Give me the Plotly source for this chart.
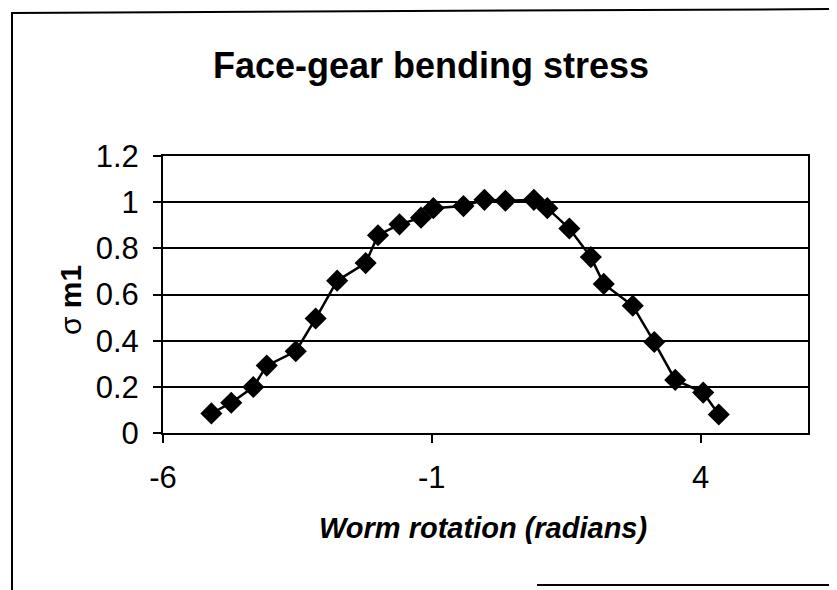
import plotly.graph_objects as go

worm_rotation = [-5.10, -4.73, -4.32, -4.07, -3.53, -3.16, -2.76, -2.23, -2.00, -1.60,
                 -1.20, -0.97, -0.41, -0.02, 0.37, 0.90, 1.15, 1.56, 1.96, 2.20,
                 2.74, 3.14, 3.53, 4.05, 4.34]
sigma_m1 = [0.085, 0.131, 0.199, 0.292, 0.354, 0.496, 0.660, 0.736, 0.857, 0.904,
            0.933, 0.974, 0.983, 1.010, 1.006, 1.010, 0.974, 0.886, 0.762, 0.646,
            0.551, 0.394, 0.230, 0.175, 0.080]

x_tick_vals = [-6, -1, 4]
x_tick_text = ["-6", "-1", "4"]

title_text = "Face-gear bending stress"
x_title = "Worm rotation (radians)"

FONT = "Liberation Sans, Arial, sans-serif"

# page is shown with the browser's default 8px body margin
O = 8
W, H = 837 - O, 590 - O
L, R, T, B = 163 - O, 808 - O, 156 - O, 433 - O  # plot area in figure px

def px_x(p):
    return (p - O - L) / (R - L)

def px_y(p):
    return (B - (p - O)) / (B - T)

fig = go.Figure()
fig.add_trace(go.Scatter(
    x=worm_rotation, y=sigma_m1, mode="lines+markers",
    line=dict(color="black", width=2.5),
    marker=dict(symbol="diamond", size=17, color="black"),
    showlegend=False,
))

fig.update_layout(
    width=W, height=H,
    margin=dict(l=L, r=W - R, t=T, b=H - B),
    paper_bgcolor="white", plot_bgcolor="white",
    font=dict(family=FONT, color="black"),
    title=dict(text="<b>" + title_text + "</b>", x=px_x(431), xref="paper",
               y=1 - (65 - O) / H, yref="container", xanchor="center", yanchor="middle",
               font=dict(size=36, family=FONT, color="black")),
    xaxis=dict(range=[-6, 6], tickvals=x_tick_vals, ticktext=x_tick_text,
               showgrid=False, zeroline=False,
               showline=True, linecolor="black", linewidth=2, mirror=True,
               ticks="outside", ticklen=8, tickwidth=1.5, tickcolor="black",
               ticklabelstandoff=8,
               tickfont=dict(size=31, family=FONT, color="black")),
    yaxis=dict(range=[0, 1.2], dtick=0.2, showgrid=True, gridcolor="black", gridwidth=1.5,
               zeroline=False, showline=True, linecolor="black", linewidth=2, mirror=True,
               ticks="outside", ticklen=8, tickwidth=1.5, tickcolor="black",
               ticklabelstandoff=8,
               tickfont=dict(size=31, family=FONT, color="black")),
    annotations=[
        dict(text="<b><i>" + x_title + "</i></b>", xref="paper", yref="paper",
             x=px_x(483), y=px_y(528), xanchor="center", yanchor="middle",
             showarrow=False, font=dict(size=29, family=FONT, color="black")),
        dict(text="σ <b>m1</b>", xref="paper", yref="paper",
             x=px_x(70), y=px_y(300), xanchor="center", yanchor="middle",
             textangle=-90, showarrow=False,
             font=dict(size=30, family=FONT, color="black")),
    ],
    shapes=[
        dict(type="line", xref="paper", yref="paper", x0=px_x(12), x1=px_x(12),
             y0=px_y(12), y1=px_y(600), line=dict(color="black", width=2)),
        dict(type="line", xref="paper", yref="paper", x0=px_x(12), x1=px_x(845),
             y0=px_y(13), y1=px_y(9), line=dict(color="black", width=2)),
        dict(type="line", xref="paper", yref="paper", x0=px_x(537), x1=px_x(845),
             y0=px_y(585), y1=px_y(585), line=dict(color="black", width=2)),
    ],
)

fig.write_html("out.html")
